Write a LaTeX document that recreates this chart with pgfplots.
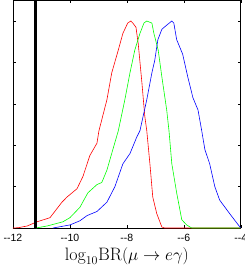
\documentclass[border=0pt]{standalone}
\usepackage{fontspec}
\usepackage{pgfplots}
\pgfplotsset{compat=1.18}
\newfontfamily\ticksans{Liberation Sans}
\begin{document}
\begin{tikzpicture}
\begin{axis}[
  scale only axis, width=228pt, height=228pt,
  xmin=-12, xmax=-4, ymin=0, ymax=1.1,
  xtick={-12,-10,-8,-6,-4},
  xticklabels={--12,--10,--8,--6,--4},
  ytick={0,0.2,0.4,0.6,0.8,1.0},
  yticklabels={},
  tick align=inside, major tick length=3pt,
  tick style={black, line width=0.4pt},
  axis line style={black, line width=0.6pt},
  xticklabel style={font=\ticksans\fontsize{10.5}{11}\selectfont, yshift=-3pt},
  xlabel={$\mathrm{log}_{10}\mathrm{BR}(\mu\to e\gamma)$},
  xlabel style={font=\fontsize{18}{20}\selectfont, yshift=1.5pt},
  clip=true,
]
\addplot[red, line width=0.6pt] coordinates {
(-12,0.0) (-11.8,0.002) (-11.5,0.01) (-11.16,0.03) (-10.7,0.05) (-10.28,0.125) (-10.1,0.15)
(-9.75,0.19) (-9.54,0.25) (-9.3,0.35) (-9.05,0.41) (-8.98,0.47) (-8.7,0.62) (-8.53,0.75)
(-8.3,0.86) (-8.14,0.94) (-7.97,0.99) (-7.86,1.0) (-7.79,0.99) (-7.68,0.97) (-7.6,0.89)
(-7.47,0.70) (-7.37,0.54) (-7.3,0.47) (-7.19,0.31) (-7.09,0.15) (-6.95,0.07) (-6.77,0.005) (-6.67,0) (-4,0)
};
\addplot[green, line width=0.6pt] coordinates {
(-11.2,0.0) (-10.8,0.01) (-10.25,0.03) (-10.0,0.05) (-9.65,0.10) (-9.37,0.17) (-9.05,0.21)
(-8.88,0.22) (-8.7,0.28) (-8.49,0.38) (-8.3,0.47) (-8.07,0.62) (-7.89,0.75) (-7.72,0.86)
(-7.54,0.94) (-7.4,0.99) (-7.3,1.0) (-7.12,0.99) (-7.05,0.94) (-6.9,0.86) (-6.77,0.73)
(-6.6,0.57) (-6.52,0.47) (-6.42,0.31) (-6.25,0.17) (-6.07,0.04) (-5.9,0.015) (-5.72,0) (-4,0)
};
\addplot[blue, line width=0.6pt] coordinates {
(-10.6,0.0) (-10.0,0.015) (-9.65,0.035) (-9.4,0.06) (-9.05,0.08) (-8.7,0.125) (-8.42,0.2)
(-8.14,0.31) (-7.89,0.36) (-7.65,0.44) (-7.54,0.47) (-7.3,0.62) (-7.12,0.75) (-7.02,0.81)
(-6.91,0.91) (-6.77,0.96) (-6.6,0.98) (-6.42,1.0) (-6.35,0.99) (-6.25,0.91) (-6.04,0.84)
(-5.86,0.73) (-5.68,0.63) (-5.5,0.57) (-5.37,0.47) (-5.26,0.38) (-5.09,0.31) (-4.91,0.20)
(-4.74,0.135) (-4.39,0.07) (-4.14,0.025) (-4.0,0)
};
\addplot[black, line width=3pt] coordinates {(-11.2,0) (-11.2,1.1)};
\coordinate (sw) at (rel axis cs:0,0);
\coordinate (ne) at (rel axis cs:1,1);
\end{axis}
\pgfresetboundingbox
\path[use as bounding box] ([shift={(-13pt,-37pt)}]sw) rectangle ([shift={(4pt,0.3pt)}]ne);
\end{tikzpicture}
\end{document}
